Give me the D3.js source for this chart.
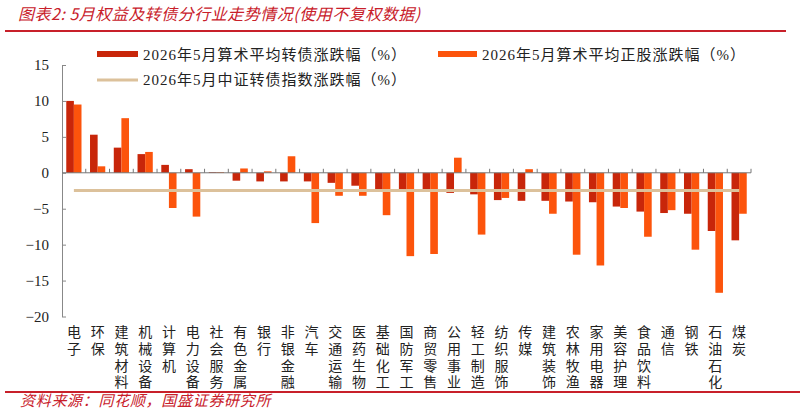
<!DOCTYPE html>
<html>
<head>
<meta charset="utf-8">
<script src="https://cdnjs.cloudflare.com/ajax/libs/d3/7.8.5/d3.min.js"></script>
<style>
  body { margin: 0; background: #fff; }
  svg { display: block; }
</style>
</head>
<body>
<svg id="chart" width="805" height="418"></svg>
<script>
var categories = ["电子","环保","建筑材料","机械设备","计算机","电力设备","社会服务","有色金属","银行","非银金融",
                  "汽车","交通运输","医药生物","基础化工","国防军工","商贸零售","公用事业","轻工制造","纺织服饰","传媒",
                  "建筑装饰","农林牧渔","家用电器","美容护理","食品饮料","通信","钢铁","石油石化","煤炭"];
var cbChange = [10.0, 5.3, 3.5, 2.6, 1.1, 0.5, 0.1, -1.1, -1.2, -1.2,
                -1.2, -1.4, -1.8, -2.3, -2.3, -2.3, -2.8, -3.0, -3.8, -3.9,
                -3.9, -4.0, -4.1, -4.7, -5.4, -5.6, -5.7, -8.1, -9.4];
var stockChange = [9.5, 0.9, 7.6, 2.9, -4.9, -6.1, 0.1, 0.6, 0.2, 2.3,
                   -7.0, -3.2, -3.2, -5.9, -11.6, -11.3, 2.1, -8.6, -3.5, 0.5,
                   -5.7, -11.4, -12.9, -4.9, -8.9, -5.2, -10.7, -16.7, -5.7];
var indexChange = -2.46;
var yTicks = [15, 10, 5, 0, -5, -10, -15, -20];
var seriesNames = ["2026年5月算术平均转债涨跌幅（%）", "2026年5月算术平均正股涨跌幅（%）", "2026年5月中证转债指数涨跌幅（%）"];

var cbColor = "#c8260a", stockColor = "#fc540c", lineColor = "#dcc19b", red = "#c8202a";
var latin = "'Liberation Serif', 'Noto Sans CJK SC', serif";

var svg = d3.select("#chart");
var axisX0 = 62, axisX1 = 751;

var scX = d3.scaleBand().domain(d3.range(categories.length)).range([axisX0, axisX1]);
var scSub = d3.scaleBand().domain([0, 1]).range([0, scX.bandwidth()]).paddingOuter(0.56);
var scY = d3.scaleLinear().domain([15, -20]).range([65, 316.5]);

// title and frame lines
svg.append("text")
    .attr("x", 18).attr("y", 20)
    .attr("fill", red)
    .style("font-family", "'Noto Sans CJK SC', sans-serif")
    .style("font-size", "16px").style("font-style", "italic")
    .style("letter-spacing", "0.5px")
    .text("图表2:  5月权益及转债分行业走势情况(使用不复权数据)");
svg.append("line").attr("x1", 5).attr("x2", 786).attr("y1", 31).attr("y2", 31)
    .attr("stroke", red).attr("stroke-width", 2);
svg.append("line").attr("x1", 5).attr("x2", 800).attr("y1", 392).attr("y2", 392)
    .attr("stroke", red).attr("stroke-width", 2);
svg.append("text")
    .attr("x", 20).attr("y", 406)
    .attr("fill", red)
    .style("font-family", "'Noto Sans CJK SC', sans-serif")
    .style("font-size", "15px").style("font-style", "italic")
    .style("letter-spacing", "0.7px")
    .text("资料来源：同花顺，国盛证券研究所");

// y axis
var yAxis = svg.append("g")
    .attr("transform", "translate(" + axisX0 + ",0)")
    .call(d3.axisLeft(scY).tickValues(yTicks).tickSizeInner(-4).tickSizeOuter(0).tickPadding(13));
yAxis.select(".domain").attr("stroke", "#888");
yAxis.selectAll(".tick line").attr("stroke", "#888");
yAxis.selectAll(".tick text")
    .attr("fill", "#222")
    .style("font-family", latin).style("font-size", "15px");

// bars
var plot = svg.append("g");
plot.selectAll("rect.cb")
    .data(cbChange).enter().append("rect")
    .attr("class", "cb")
    .attr("fill", cbColor)
    .attr("x", (d, i) => scX(i) + scSub(0))
    .attr("width", scSub.bandwidth())
    .attr("y", d => scY(Math.max(0, d)))
    .attr("height", d => Math.abs(scY(d) - scY(0)));
plot.selectAll("rect.st")
    .data(stockChange).enter().append("rect")
    .attr("class", "st")
    .attr("fill", stockColor)
    .attr("x", (d, i) => scX(i) + scSub(1))
    .attr("width", scSub.bandwidth())
    .attr("y", d => scY(Math.max(0, d)))
    .attr("height", d => Math.abs(scY(d) - scY(0)));

// x axis at zero, ticks pointing up between categories
var xAxis = svg.append("g").attr("transform", "translate(0," + scY(0) + ")");
xAxis.append("line").attr("x1", axisX0).attr("x2", axisX1).attr("stroke", "#777");
xAxis.selectAll("line.tk")
    .data(d3.range(1, categories.length + 1)).enter().append("line")
    .attr("class", "tk")
    .attr("x1", i => scX.step() * i + axisX0).attr("x2", i => scX.step() * i + axisX0)
    .attr("y1", 0).attr("y2", -4)
    .attr("stroke", "#777");

// index line
var lineMaker = d3.line().x(d => d[0]).y(d => scY(d[1]));
svg.append("path")
    .attr("fill", "none").attr("stroke", lineColor).attr("stroke-width", 3)
    .attr("d", lineMaker([[scX(0) + scX.bandwidth() / 2, indexChange],
                          [scX(categories.length - 1) + scX.bandwidth() / 2, indexChange]]));

// vertical category labels
svg.append("g").selectAll("text")
    .data(categories).enter().append("text")
    .attr("x", (d, i) => scX(i) + scX.bandwidth() / 2)
    .attr("y", 325)
    .attr("fill", "#222")
    .style("writing-mode", "vertical-rl")
    .style("font-family", "'Noto Sans CJK SC', sans-serif")
    .style("font-size", "14px")
    .style("letter-spacing", "2.7px")
    .text(d => d);

// legend
var legend = svg.append("g")
    .style("font-family", latin).style("font-size", "15px").style("letter-spacing", "1px");
legend.append("rect").attr("x", 97).attr("y", 51).attr("width", 41).attr("height", 6).attr("fill", cbColor);
legend.append("text").attr("x", 143).attr("y", 60).attr("fill", "#222").text(seriesNames[0]);
legend.append("rect").attr("x", 438).attr("y", 51).attr("width", 39).attr("height", 6).attr("fill", stockColor);
legend.append("text").attr("x", 482).attr("y", 60).attr("fill", "#222").text(seriesNames[1]);
legend.append("line").attr("x1", 97).attr("x2", 138).attr("y1", 80).attr("y2", 80)
    .attr("stroke", lineColor).attr("stroke-width", 3);
legend.append("text").attr("x", 143).attr("y", 85).attr("fill", "#222").text(seriesNames[2]);
</script>
</body>
</html>
